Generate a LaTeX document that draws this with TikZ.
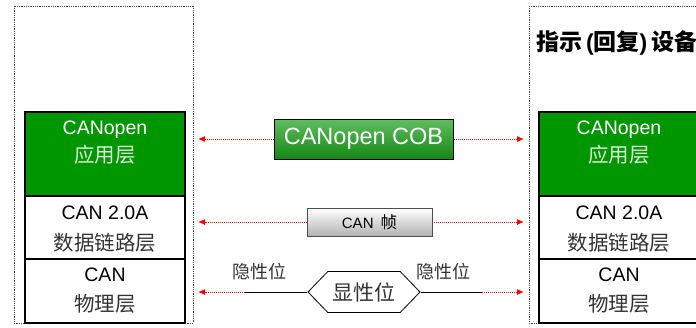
\documentclass[tikz,border=0pt]{standalone}
\usepackage{fontspec}
\setmainfont{Liberation Sans}
\newfontfamily\cjk{Noto Sans CJK SC}
\usetikzlibrary{shapes.symbols,arrows.meta}
\definecolor{layergreen}{RGB}{0,150,0}
\definecolor{cobtop}{RGB}{96,190,96}
\definecolor{cobbottom}{RGB}{20,135,20}
\tikzset{
  layer/.style={draw=black, line width=2pt, minimum width=160pt, inner sep=0pt},
  device/.style={draw=black!75, densely dotted, line width=0.8pt},
  latin/.style={inner sep=0pt, font=\fontsize{19.5}{19.5}\selectfont},
  han/.style={inner sep=0pt, text=black!80, font=\cjk\fontsize{20.5}{20.5}\selectfont},
  sig/.style={draw=red, densely dotted, line width=1pt, -{Latex[length=7pt,width=6pt]}},
}
\begin{document}
\begin{tikzpicture}[x=1pt,y=-1pt]
\useasboundingbox (0,0) rectangle (696,327);
% the two devices
\draw[device] (14,6) rectangle (193,323);
\draw[device] (529,6) rectangle (720,323);
\node[anchor=west, inner sep=0pt, font=\bfseries\fontsize{23}{23}\selectfont] (title) at (536,43)
  {{\cjk 指示}\,({\cjk 回复})\,{\cjk 设备}};
\foreach \x/\s in {105/l,619/r} {
  \node[layer, fill=layergreen, minimum height=84pt] (\s app) at (\x,154) {};
  \node[layer, minimum height=63pt] (\s dll) at (\x,227.5) {};
  \node[layer, minimum height=64pt] (\s phy) at (\x,291) {};
  \node[latin, white] (\s appa) at (\x,130) {CANopen};
  \node[han, text=white!85!layergreen] (\s appb) at (\x,155) {应用层};
  \node[latin] (\s dlla) at (\x,213) {CAN 2.0A};
  \node[han] (\s dllb) at (\x,243) {数据链路层};
  \node[latin] (\s phya) at (\x,275) {CAN};
  \node[han] (\s phyb) at (\x,304) {物理层};
}
% messages between the devices
\node[draw=black, line width=1pt, top color=cobtop, bottom color=cobbottom, text=white,
  minimum width=179pt, minimum height=40pt, inner sep=0pt,
  font=\fontsize{23.5}{23.5}\selectfont] (cob) at (363.5,139) {CANopen COB};
\node[draw=black!70, line width=0.8pt, top color=white, bottom color=black!30,
  minimum width=125pt, minimum height=28pt, inner sep=0pt,
  font=\fontsize{15}{15}\selectfont] (frame) at (369.5,222) {CAN\hspace{7pt}{\cjk\fontsize{16.5}{16.5}\selectfont 帧}};
\node[draw=black, line width=0.8pt, fill=white, signal, signal to=east and west,
  signal pointer angle=92, minimum width=112pt, minimum height=41pt, inner sep=0pt,
  font=\cjk\fontsize{21}{21}\selectfont, text=black!80] (dom) at (364,292) {显性位};
\coordinate (lrec) at (245,292);
\coordinate (rrec) at (482,292);
\node[han, font=\cjk\fontsize{18}{18}\selectfont] (lreclab) at (259,272) {隐性位};
\node[han, font=\cjk\fontsize{18}{18}\selectfont] (rreclab) at (443,272) {隐性位};
\draw[line width=1pt] (lrec) -- (dom.west);
\draw[line width=1pt] (dom.east) -- (rrec);
\draw[sig, shorten >=12pt] (cob.west) -- (cob.west -| lapp.east);
\draw[sig, shorten >=14pt] (cob.east) -- (cob.east -| rapp.west);
\draw[sig, shorten >=12pt] (frame.west) -- (frame.west -| ldll.east);
\draw[sig, shorten >=14pt] (frame.east) -- (frame.east -| rdll.west);
\draw[sig, shorten >=12pt] (lrec) -- (lrec -| lphy.east);
\draw[sig, shorten >=14pt] (rrec) -- (rrec -| rphy.west);
\end{tikzpicture}
\end{document}
